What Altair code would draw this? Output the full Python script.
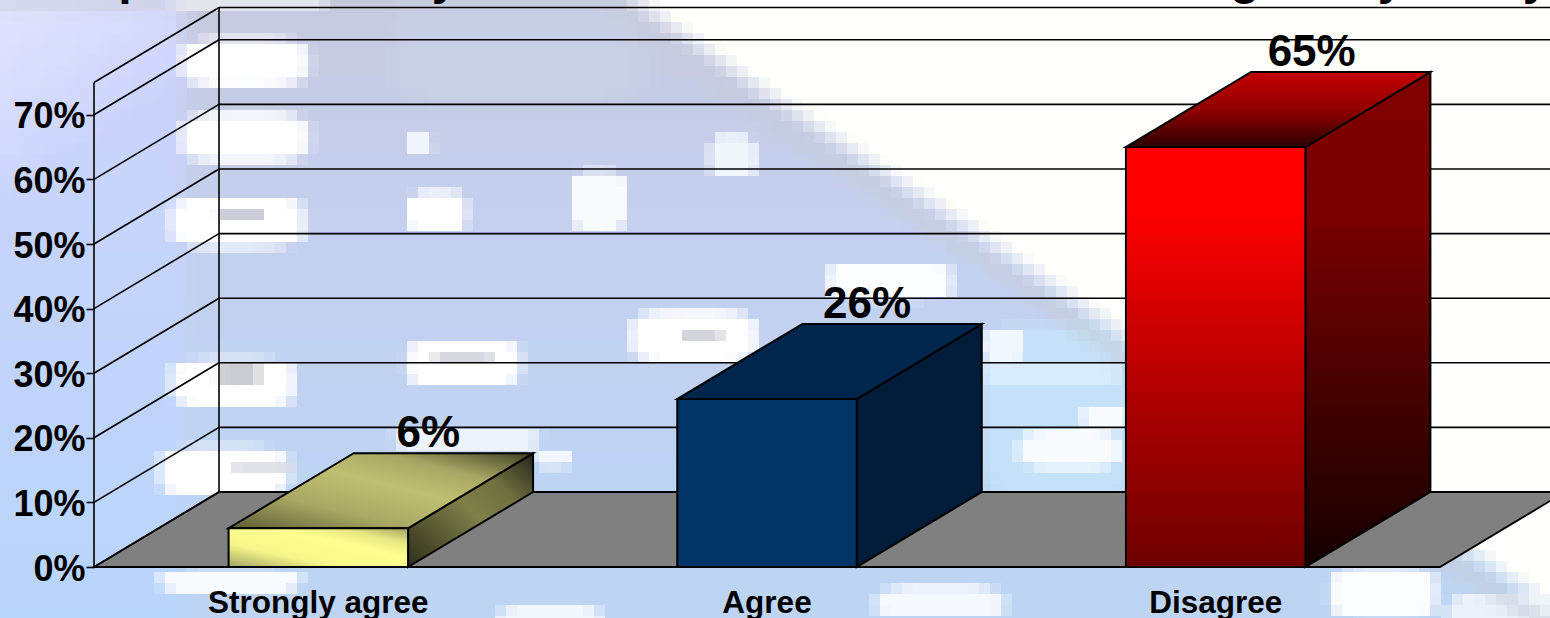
import altair as alt
import numpy as np
import pandas as pd

# Survey results
CATEGORIES = ["Strongly agree", "Agree", "Disagree"]
VALUES = [6, 26, 65]
LABELS = ["6%", "26%", "65%"]
TICKS = [0, 10, 20, 30, 40, 50, 60, 70]
AXIS_TOP = 75

W, H = 1550, 618
PX_PER_SLOT = 448.67
PX_PER_PCT = 6.46
DEPTH_X = 125 / PX_PER_SLOT   # receding floor, in category slots
DEPTH_Y = 75 / PX_PER_PCT     # receding floor, in percentage points
BAR_L, BAR_R = 0.3, 0.7

X_SCALE = alt.Scale(domain=[-94 / PX_PER_SLOT, (W - 94) / PX_PER_SLOT], range=[0, W], nice=False, zero=False)
Y_SCALE = alt.Scale(domain=[(567 - H) / PX_PER_PCT, 567 / PX_PER_PCT], range=[H, 0], nice=False, zero=False)


def X(f="x"):
    return alt.X(f"{f}:Q", scale=X_SCALE, axis=None, title=None)


def Y(f="y"):
    # The value axis is pulled in from the left edge so its ticks meet the side wall
    return alt.Y(f"{f}:Q", scale=Y_SCALE, title=None, axis=alt.Axis(
        values=TICKS, labelExpr="datum.value + '%'", offset=-94, domain=False, grid=False, zindex=2,
        tickColor="#000", tickSize=8, tickWidth=1.6, labelPadding=1, labelColor="#000", labelOffset=2,
        labelFont="Liberation Sans", labelFontWeight="bold", labelFontSize=36, labelBaseline="middle",
    ))


def to_x(px):
    return (np.asarray(px, dtype=float) - 94) / PX_PER_SLOT


def to_y(py):
    return (567 - np.asarray(py, dtype=float)) / PX_PER_PCT


def gradient(stops, x1=0, y1=0, x2=0, y2=1):
    return {"gradient": "linear", "x1": x1, "y1": y1, "x2": x2, "y2": y2,
            "stops": [{"offset": o, "color": c} for o, c in stops]}


def rgb(h):
    return np.array([int(h[i:i + 2], 16) for i in (1, 3, 5)], dtype=float)


# Slide backdrop: a washed-out, coarsely pixelated photo of a keyboard
CELL = 11
EDGE_X = [600, 764, 979, 1117, 1306, 1483, 1570]
EDGE_Y = [-18, 97, 240, 335, 465, 565, 625]
# left, right, top, bottom, colour, strength of each soft patch
PATCHES = [
    (985, 1130, 330, 500, "#c5e3fa", 0.9),
    (400, 640, 0, 100, "#c9d2e6", 0.7),
    (178, 320, 0, 10, "#ffffff", 0.9),
    (185, 305, 40, 84, "#ffffff", 1.0), (185, 305, 115, 160, "#ffffff", 1.0),
    (175, 300, 198, 246, "#ffffff", 1.0), (410, 465, 193, 232, "#ffffff", 1.0),
    (572, 625, 173, 228, "#ffffff", 0.9), (711, 754, 137, 177, "#f6fbff", 0.9),
    (410, 433, 133, 157, "#f6f9ff", 0.9), (830, 948, 263, 300, "#ffffff", 0.95),
    (634, 754, 313, 360, "#ffffff", 1.0), (410, 517, 340, 385, "#ffffff", 1.0),
    (175, 292, 360, 405, "#ffffff", 1.0), (164, 285, 448, 495, "#ffffff", 1.0),
    (984, 1022, 330, 360, "#f5faff", 0.9), (534, 572, 453, 467, "#ffffff", 0.8),
    (400, 534, 427, 450, "#f8fbff", 0.8), (1022, 1118, 433, 467, "#fbfdff", 0.95),
    (1084, 1127, 407, 427, "#ffffff", 0.9), (984, 1118, 360, 383, "#e6f3ff", 0.6),
    (164, 296, 568, 591, "#ffffff", 0.9), (880, 1000, 588, 618, "#ffffff", 0.85),
    (500, 600, 608, 640, "#ffffff", 0.8), (1333, 1433, 568, 618, "#ffffff", 0.95),
    (1450, 1550, 596, 640, "#ffffff", 0.7),
    (218, 262, 207, 218, "#c6c8d6", 0.9), (215, 262, 368, 380, "#c4c4cc", 0.9),
    (436, 490, 352, 362, "#cfd0da", 0.8), (680, 720, 330, 342, "#cdcdd6", 0.85),
    (235, 290, 460, 470, "#d4d4de", 0.7),
]

cx = np.arange(0, W, CELL) + CELL / 2
cy = np.arange(0, H, CELL) + CELL / 2
gx, gy = np.meshgrid(cx, cy)
edge_at = np.interp(gx, EDGE_X, EDGE_Y)
ty = np.clip(gy / H, 0, 1)[..., None]
c = rgb("#cfd3fb") * (1 - ty) + rgb("#b8d5fb") * ty
corner = np.clip(1 - (gx + 1.4 * gy) / 300, 0, 1)[..., None]
c = c * (1 - corner) + rgb("#e2e5ff") * corner
h1 = rgb("#c6c8de")
h2 = rgb("#c3d1f0")
h3 = rgb("#bdd4f3")
s1 = np.clip(gy / 260, 0, 1)[..., None]
s2 = np.clip((gy - 320) / 180, 0, 1)[..., None]
haze = (h1 * (1 - s1) + h2 * s1) * (1 - s2) + h3 * s2
ha = (0.95 * np.clip((gx - 170) / 25, 0, 1))[..., None]
c = c * (1 - ha) + haze * ha
for l, r, t, b, col, k in PATCHES:
    mx, my, a, e = (l + r) / 2, (t + b) / 2, (r - l) / 2, (b - t) / 2
    d = np.abs((gx - mx) / a) ** 4 + np.abs((gy - my) / e) ** 4
    al = (k * np.clip((1.9 - d) / 1.2, 0, 1))[..., None]
    c = c * (1 - al) + rgb(col) * al
# The bright corner of the photo and the grey ridge along its boundary
dist = (edge_at - gy) / 1.21
br = np.clip((dist + 8) / 24, 0, 1)[..., None]
c = c * (1 - br) + rgb("#fffffb") * br
rd = (0.55 * np.exp(-((dist + 14) / 11) ** 2))[..., None]
c = c * (1 - rd) + rgb("#c6ccd8") * rd
c = np.clip(c, 0, 255).round().astype(int)

backdrop = pd.DataFrame({
    "x": to_x(gx.ravel() - CELL / 2),
    "x2": to_x(gx.ravel() + CELL / 2 + 1),
    "y": to_y(gy.ravel() - CELL / 2),
    "y2": to_y(gy.ravel() + CELL / 2 + 1),
    "fill": ["#%02x%02x%02x" % tuple(v) for v in c.reshape(-1, 3)],
})
alt.data_transformers.disable_max_rows()
layers = [alt.Chart(backdrop).mark_rect(strokeWidth=0).encode(
    x=X(), x2="x2:Q", y=Y(), y2="y2:Q", fill=alt.Fill("fill:N", scale=None))]

# Floor
floor = pd.DataFrame({"y": [0, DEPTH_Y], "x": [0, DEPTH_X], "x2": [3, 3 + DEPTH_X]})
layers.append(alt.Chart(floor).mark_area(orient="horizontal", fill="#808080", stroke="#000", strokeWidth=1.8).encode(
    y=Y(), x=X(), x2="x2:Q"))

# Walls: back gridlines, side-wall diagonals and the two uprights
wall_rows = []
for i, t in enumerate(TICKS + [AXIS_TOP]):
    wall_rows += [
        {"id": f"back{i}", "x": DEPTH_X, "y": t + DEPTH_Y},
        {"id": f"back{i}", "x": 3 + DEPTH_X, "y": t + DEPTH_Y},
        {"id": f"side{i}", "x": 0, "y": t},
        {"id": f"side{i}", "x": DEPTH_X, "y": t + DEPTH_Y},
    ]
wall_rows += [
    {"id": "front_up", "x": 0, "y": 0}, {"id": "front_up", "x": 0, "y": AXIS_TOP},
    {"id": "back_up", "x": DEPTH_X, "y": DEPTH_Y}, {"id": "back_up", "x": DEPTH_X, "y": AXIS_TOP + DEPTH_Y},
]
layers.append(alt.Chart(pd.DataFrame(wall_rows)).mark_line(stroke="#000", strokeWidth=1.6).encode(
    x=X(), y=Y(), detail="id:N"))

# Face colours per bar: front, top, side
khaki_front = gradient([(0, "#a3a365"), (0.3, "#f6f68a"), (0.62, "#ffff90"), (0.8, "#e8e884"), (1, "#a0a060")], 0, 1, 1, 0)
khaki_top = gradient([(0, "#5c5c34"), (0.3, "#a9a964"), (0.55, "#bfbf72"), (0.75, "#a8a865"), (1, "#3e3e24")], 0, 1, 1, 0)
khaki_side = gradient([(0, "#2e2e1a"), (0.5, "#7f7f49"), (0.72, "#70703f"), (1, "#25251a")], 0, 1, 1, 0)
red_front = gradient([(0, "#ff0000"), (0.15, "#ff0000"), (0.645, "#a60000"), (1, "#6e0000")])
red_top = gradient([(0, "#c20000"), (0.5, "#920000"), (1, "#2c0000")])
red_side = gradient([(0, "#800000"), (0.3, "#780000"), (0.7, "#3e0000"), (1, "#150000")])
FACES = [
    (khaki_front, khaki_top, khaki_side),
    ("#003366", "#00264d", "#001c38"),
    (red_front, red_top, red_side),
]
# Horizontal nudge of each value label, in pixels, from the bar's front centre
LABEL_NUDGE = [110, 100, 96]
BAR_STROKE = dict(stroke="#000", strokeWidth=2)

for i, (cat, v) in enumerate(zip(CATEGORIES, VALUES)):
    l, r = i + BAR_L, i + BAR_R
    front, top, side = FACES[i]

    side_df = pd.DataFrame({"x": [r, r + DEPTH_X], "y": [0, DEPTH_Y], "y2": [v, v + DEPTH_Y]})
    layers.append(alt.Chart(side_df).mark_area(fill=side, **BAR_STROKE).encode(x=X(), y=Y(), y2="y2:Q"))

    top_df = pd.DataFrame({"y": [v, v + DEPTH_Y], "x": [l, l + DEPTH_X], "x2": [r, r + DEPTH_X]})
    layers.append(alt.Chart(top_df).mark_area(orient="horizontal", fill=top, **BAR_STROKE).encode(
        y=Y(), x=X(), x2="x2:Q"))

    front_df = pd.DataFrame({"x": [l], "x2": [r], "y": [0], "y2": [v]})
    layers.append(alt.Chart(front_df).mark_rect(fill=front, **BAR_STROKE).encode(x=X(), x2="x2:Q", y=Y(), y2="y2:Q"))

    label_df = pd.DataFrame({"x": [i + 0.5], "y": [v + DEPTH_Y], "t": [LABELS[i]]})
    layers.append(alt.Chart(label_df).mark_text(
        font="Liberation Sans", fontWeight="bold", fontSize=44, color="#000",
        align="center", baseline="alphabetic", dx=LABEL_NUDGE[i], dy=-6,
    ).encode(x=X(), y=Y(), text="t:N"))

# Category names under the floor
cat_df = pd.DataFrame({"x": [i + 0.5 for i in range(3)], "y": [0] * 3, "t": CATEGORIES})
layers.append(alt.Chart(cat_df).mark_text(
    font="Liberation Sans", fontWeight="bold", fontSize=31.5, color="#000",
    align="center", baseline="alphabetic", dy=46,
).encode(x=X(), y=Y(), text="t:N"))

# Heading runs off the top edge, leaving only its descenders in view
HEADING_X = [133, 445, 1245, 1391, 1536]
HEADING_GLYPHS = ["p", "y", "g", "y", "y"]
head_df = pd.DataFrame({"x": to_x(HEADING_X), "y": to_y([-6] * 5), "t": HEADING_GLYPHS})
layers.append(alt.Chart(head_df).mark_text(
    font="Liberation Sans", fontWeight="bold", fontSize=48, color="#000", align="center", baseline="alphabetic",
).encode(x=X(), y=Y(), text="t:N"))

chart = alt.layer(*layers).properties(
    width=W, height=H, padding=0, autosize=alt.AutoSizeParams(type="none"),
).configure_view(stroke=None)

chart.save("out.html", embed_options={"renderer": "svg", "actions": False})
